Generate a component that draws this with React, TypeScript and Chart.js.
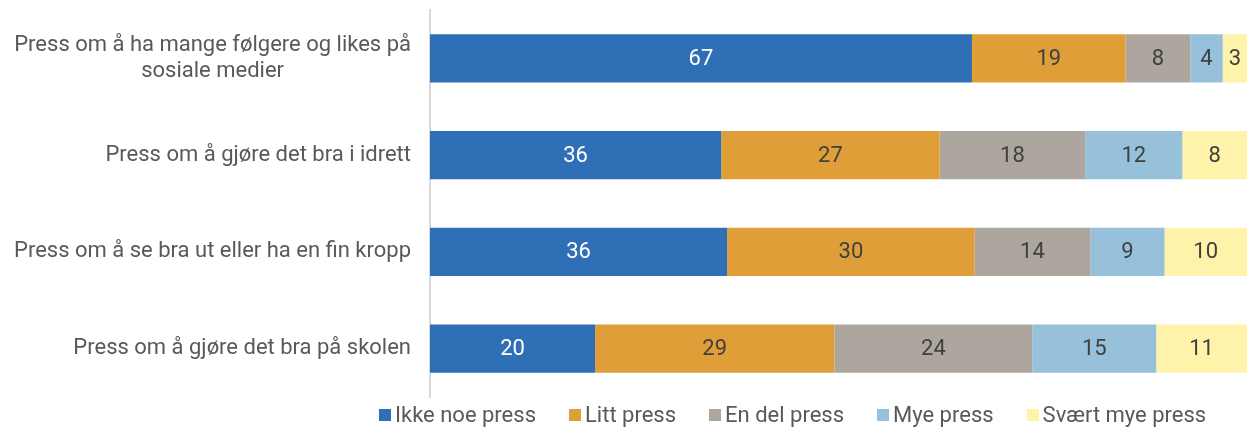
import React, { useEffect, useRef } from "react";
import { Chart, registerables } from "chart.js";

Chart.register(...registerables);

const categories: string[][] = [
  ["Press om å ha mange følgere og likes på", "sosiale medier"],
  ["Press om å gjøre det bra i idrett"],
  ["Press om å se bra ut eller ha en fin kropp"],
  ["Press om å gjøre det bra på skolen"],
];

const seriesNames = ["Ikke noe press", "Litt press", "En del press", "Mye press", "Svært mye press"];
const ikkeNoe = [67, 36, 36, 20];
const litt = [19, 27, 30, 29];
const enDel = [8, 18, 14, 24];
const mye = [4, 12, 9, 15];
const sværtMye = [3, 8, 10, 11];
const seriesValues = [ikkeNoe, litt, enDel, mye, sværtMye];
const colors = ["#2E6FB5", "#DF9E37", "#ADA69F", "#97C0DA", "#FFF2A9"];
const labelColors = ["#ffffff", "#404040", "#404040", "#404040", "#404040"];

const FONT = "Roboto, 'Noto Sans', sans-serif";
const TEXT = "#595959";

const rowSums = categories.map((_, i) => seriesValues.reduce((s, arr) => s + arr[i], 0));

const valueLabels = {
  id: "valueLabels",
  afterDatasetsDraw(chart: any) {
    const ctx = chart.ctx;
    ctx.save();
    ctx.font = `22px ${FONT}`;
    ctx.textAlign = "center";
    ctx.textBaseline = "middle";
    chart.data.datasets.forEach((ds: any, di: number) => {
      const meta = chart.getDatasetMeta(di);
      meta.data.forEach((el: any, i: number) => {
        const x = (el.x + el.base) / 2;
        ctx.fillStyle = labelColors[di];
        ctx.fillText(String(ds.raw[i]), x, el.y + 1);
      });
    });
    ctx.restore();
  },
};

const categoryLabels = {
  id: "categoryLabels",
  afterDraw(chart: any) {
    const ctx = chart.ctx;
    const yScale = chart.scales.y;
    const right = chart.chartArea.left - 19;
    const lineH = 26;
    ctx.save();
    ctx.font = `22px ${FONT}`;
    ctx.fillStyle = TEXT;
    ctx.textBaseline = "middle";
    categories.forEach((lines, i) => {
      const cy = yScale.getPixelForValue(i);
      const widest = Math.max(...lines.map((l) => ctx.measureText(l).width));
      const cx = right - widest / 2;
      ctx.textAlign = "center";
      lines.forEach((l, li) => {
        const y = cy + (li - (lines.length - 1) / 2) * lineH;
        ctx.fillText(l, cx, y);
      });
    });
    ctx.restore();
  },
};

export default function App() {
  const ref = useRef<HTMLCanvasElement>(null);
  useEffect(() => {
    if (!ref.current) return;
    const chart = new Chart(ref.current, {
      type: "bar",
      data: {
        labels: categories.map((c) => c.join(" ")),
        datasets: seriesNames.map((name, di) => ({
          label: name,
          data: seriesValues[di].map((v, i) => (v / rowSums[i]) * 100),
          raw: seriesValues[di],
          backgroundColor: colors[di],
          borderWidth: 0,
          barPercentage: 0.5,
          categoryPercentage: 1,
        })) as any,
      },
      options: {
        indexAxis: "y",
        animation: false,
        responsive: false,
        maintainAspectRatio: false,
        layout: { padding: { left: 430, right: 6, top: 10, bottom: 33 } },
        scales: {
          x: { stacked: true, min: 0, max: 100, display: false },
          y: {
            stacked: true,
            ticks: { display: false },
            grid: { display: false, drawTicks: false },
            border: { display: true, color: "#d9d9d9", width: 2 },
          },
        },
        plugins: {
          legend: { display: false },
          tooltip: { enabled: false },
        },
      },
      plugins: [valueLabels, categoryLabels],
    });
    return () => chart.destroy();
  }, []);

  return (
    <div style={{ position: "fixed", left: 0, top: 0, width: 1253, height: 430, background: "#fff" }}>
      <canvas ref={ref} width={1253} height={430} style={{ display: "block" }} />
      <div
        style={{
          position: "absolute",
          left: 379,
          top: 402,
          display: "flex",
          gap: 33,
          fontFamily: FONT,
          fontSize: 22,
          color: TEXT,
          lineHeight: "26px",
          whiteSpace: "nowrap",
        }}
      >
        {seriesNames.map((n, i) => (
          <div key={n} style={{ display: "flex", alignItems: "center" }}>
            <span style={{ display: "inline-block", width: 12, height: 12, background: colors[i], marginRight: 4 }} />
            <span>{n}</span>
          </div>
        ))}
      </div>
    </div>
  );
}
